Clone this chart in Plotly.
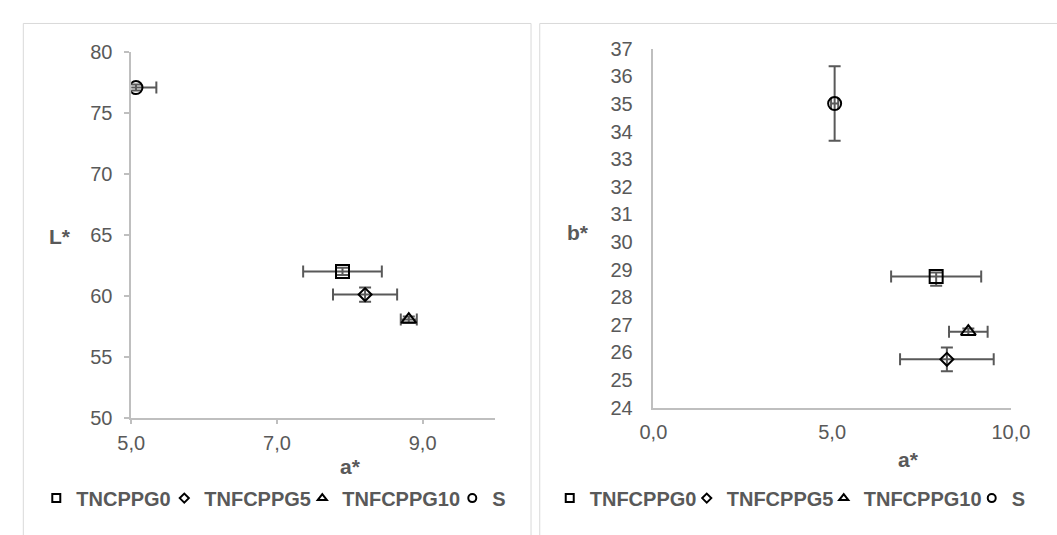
import plotly.graph_objects as go

# ---- data ----
left_names = ["TNCPPG0", "TNFCPPG5", "TNFCPPG10", "S"]
right_names = ["TNFCPPG0", "TNFCPPG5", "TNFCPPG10", "S"]
symbols = ["square-open", "diamond-open", "triangle-up-open", "circle-open"]

left_a = [7.90, 8.21, 8.81, 5.065]
left_L = [62.0, 60.1, 58.05, 77.1]
left_a_err = [0.54, 0.44, 0.11, 0.28]
left_L_err = [0.3, 0.58, 0.25, 0.25]

right_a = [7.91, 8.21, 8.81, 5.07]
right_b = [28.75, 25.75, 26.75, 35.02]
right_a_err = [1.26, 1.31, 0.54, 0.1]
right_b_err_plus = [0.15, 0.43, 0.12, 1.35]
right_b_err_minus = [0.33, 0.43, 0.12, 1.35]

# ---- styling (layout only) ----
W, H = 1057, 535
FONT = "Liberation Sans, Arial, sans-serif"
GRAY = "#595959"
AXIS = "#bfbfbf"
ERR = "#595959"
marker_sizes = [13, 10, 13, 13]
legend_sizes = [8, 7, 8, 8]
left_legend_widths = [83, 93, 105, 20]
right_legend_widths = [92, 92, 103, 20]


def px(x):
    return x / W


def py(y):
    return (H - y) / H


fig = go.Figure()


def add_series(names, xs, ys, xerr, yerr_p, yerr_m, xa, ya, leg, widths):
    for i, name in enumerate(names):
        fig.add_trace(go.Scatter(
            x=[xs[i]], y=[ys[i]], mode="markers", name=name,
            xaxis=xa, yaxis=ya, showlegend=False,
            marker=dict(symbol=symbols[i], size=marker_sizes[i], color="black",
                        line=dict(width=2, color="black")),
            error_x=dict(type="data", array=[xerr[i]], color=ERR, thickness=2, width=6),
            error_y=dict(type="data", array=[yerr_p[i]], arrayminus=[yerr_m[i]],
                         color=ERR, thickness=2, width=6),
        ))
    for i, name in enumerate(names):
        fig.add_trace(go.Scatter(
            x=[None], y=[None], mode="markers", name=name, xaxis=xa, yaxis=ya,
            legend=leg, legendwidth=widths[i],
            marker=dict(symbol=symbols[i], size=legend_sizes[i], color="black",
                        line=dict(width=2, color="black")),
        ))


add_series(left_names, left_a, left_L, left_a_err, left_L_err, left_L_err,
           "x", "y", "legend", left_legend_widths)
add_series(right_names, right_a, right_b, right_a_err, right_b_err_plus, right_b_err_minus,
           "x2", "y2", "legend2", right_legend_widths)

tickfont = dict(family=FONT, size=20, color=GRAY)
common = dict(showgrid=False, zeroline=False, showline=True, linecolor=AXIS, linewidth=1.5,
              tickfont=tickfont)

legend_style = dict(orientation="h", font=dict(family=FONT, size=20, color=GRAY, weight="bold"),
                    bgcolor="rgba(0,0,0,0)", borderwidth=0, xanchor="left", yanchor="middle",
                    itemclick=False, itemdoubleclick=False)

title_font = dict(family=FONT, size=21, color=GRAY)

fig.update_layout(
    width=W, height=H,
    margin=dict(l=0, r=0, t=0, b=0),
    paper_bgcolor="white", plot_bgcolor="white",
    separators=", ",
    xaxis=dict(domain=[px(121), px(497)], range=[5, 10], tick0=5, dtick=2, tickformat=".1f",
               ticks="outside", ticklen=5, tickcolor=AXIS, tickwidth=1.5, anchor="y",
               ticklabelstandoff=2, **common),
    yaxis=dict(domain=[py(424), py(43)], range=[50, 80], dtick=5, ticks="outside", ticklen=5,
               tickcolor=AXIS, tickwidth=1.5, anchor="x", ticklabelstandoff=8, **common),
    xaxis2=dict(domain=[px(660), px(1029)], range=[0, 10], tick0=0, dtick=5, tickformat=".1f",
                ticks="", anchor="y2", ticklabelstandoff=6, **common),
    yaxis2=dict(domain=[py(413.6), py(39.5)], range=[24, 37], dtick=1, ticks="", anchor="x2",
                ticklabelstandoff=15, **common),
    legend=dict(x=px(67 - 44), y=py(508), **legend_style),
    legend2=dict(x=px(597 - 44), y=py(508), **legend_style),
    shapes=[
        dict(type="rect", xref="paper", yref="paper", x0=px(9.6), x1=px(533.7), y0=-0.1, y1=py(13),
             line=dict(color="#d9d9d9", width=1), fillcolor="rgba(0,0,0,0)", layer="below"),
        dict(type="rect", xref="paper", yref="paper", x0=px(542.7), x1=1.1, y0=-0.1, y1=py(13),
             line=dict(color="#d9d9d9", width=1), fillcolor="rgba(0,0,0,0)", layer="below"),
    ],
    annotations=[
        dict(text="<b>L*</b>", x=px(47), y=py(235.5), xref="paper", yref="paper", showarrow=False,
             font=title_font, xanchor="center", yanchor="middle"),
        dict(text="<b>a*</b>", x=px(347), y=py(475), xref="paper", yref="paper", showarrow=False,
             font=title_font, xanchor="center", yanchor="middle"),
        dict(text="<b>b*</b>", x=px(582), y=py(230.5), xref="paper", yref="paper", showarrow=False,
             font=title_font, xanchor="center", yanchor="middle"),
        dict(text="<b>a*</b>", x=px(923), y=py(468), xref="paper", yref="paper", showarrow=False,
             font=title_font, xanchor="center", yanchor="middle"),
    ],
)

fig.write_html("out.html", config={"displayModeBar": False},
               post_script="document.body.style.margin='0px';")
